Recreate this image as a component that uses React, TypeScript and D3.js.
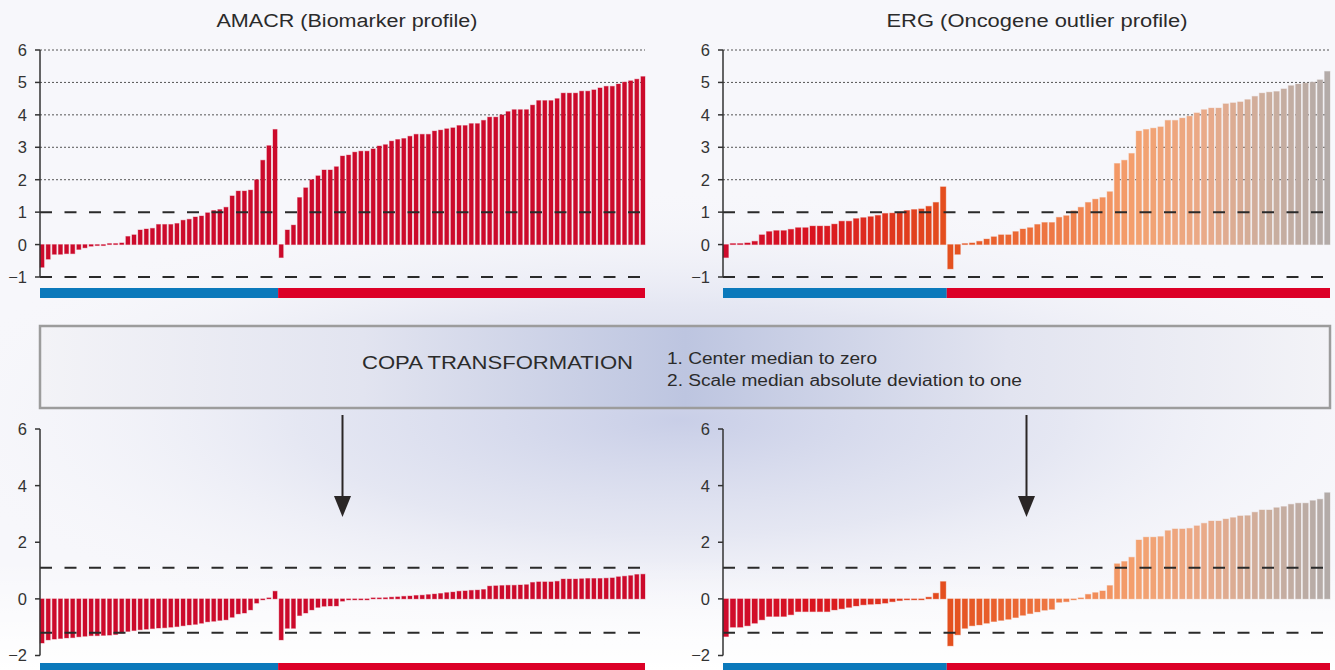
import * as d3 from 'd3'

const W = 1335
const H = 670

// AMACR raw expression, sorted within each group (normal = blue strip, cancer = red strip)
const amacrNormal = [
  -0.7, -0.45, -0.3, -0.3, -0.28, -0.28, -0.15, -0.1, -0.05, -0.03,
  -0.02, 0.02, 0.03, 0.05, 0.25, 0.3, 0.45, 0.48, 0.5, 0.62,
  0.62, 0.62, 0.65, 0.75, 0.78, 0.85, 0.88, 0.98, 1.05, 1.08,
  1.15, 1.5, 1.65, 1.65, 1.68, 2.0, 2.6, 3.05, 3.55,
]
const amacrCancer = [
  -0.4, 0.45, 0.6, 1.45, 1.75, 2.0, 2.12, 2.3, 2.3, 2.4,
  2.73, 2.76, 2.85, 2.88, 2.88, 2.95, 3.04, 3.08, 3.19, 3.24,
  3.27, 3.34, 3.4, 3.4, 3.4, 3.5, 3.53, 3.57, 3.6, 3.67,
  3.67, 3.73, 3.73, 3.83, 3.93, 3.93, 4.0, 4.1, 4.16, 4.16,
  4.16, 4.3, 4.44, 4.44, 4.44, 4.5, 4.67, 4.67, 4.67, 4.73,
  4.73, 4.77, 4.83, 4.88, 4.88, 4.95, 5.01, 5.05, 5.1, 5.18,
]
const ergNormal = [
  -0.4, 0.01, 0.02, 0.05, 0.1, 0.3, 0.4, 0.43, 0.43, 0.47,
  0.52, 0.52, 0.57, 0.57, 0.57, 0.63, 0.72, 0.72, 0.8, 0.83,
  0.86, 0.9, 0.96, 0.97, 1.0, 1.05, 1.08, 1.1, 1.18, 1.3, 1.78,
]
const ergCancer = [
  -0.75, -0.3, 0.0, 0.05, 0.1, 0.17, 0.24, 0.3, 0.3, 0.4,
  0.48, 0.52, 0.62, 0.68, 0.68, 0.84, 0.89, 1.04, 1.15, 1.3,
  1.4, 1.45, 1.63, 2.5, 2.6, 2.81, 3.5, 3.55, 3.59, 3.63,
  3.83, 3.83, 3.9, 3.96, 4.06, 4.16, 4.21, 4.21, 4.34, 4.37,
  4.4, 4.47, 4.57, 4.67, 4.7, 4.72, 4.8, 4.9, 4.95, 4.98,
  5.01, 5.08, 5.34,
]

// after COPA transformation
const copaAmacrNormal = [
  -1.56, -1.45, -1.42, -1.4, -1.38, -1.37, -1.34, -1.32, -1.3, -1.3,
  -1.29, -1.28, -1.26, -1.21, -1.15, -1.12, -1.09, -1.07, -1.05, -1.03,
  -1.02, -1.0, -0.98, -0.95, -0.92, -0.9, -0.86, -0.81, -0.79, -0.76,
  -0.74, -0.65, -0.53, -0.5, -0.39, -0.15, -0.02, 0.03, 0.27,
]
const copaAmacrCancer = [
  -1.45, -1.04, -1.04, -0.59, -0.5, -0.39, -0.3, -0.26, -0.25, -0.25,
  -0.08, -0.03, -0.02, -0.01, -0.01, 0.01, 0.03, 0.04, 0.06, 0.07,
  0.09, 0.1, 0.12, 0.13, 0.15, 0.17, 0.19, 0.22, 0.24, 0.27,
  0.28, 0.3, 0.31, 0.33, 0.45, 0.46, 0.47, 0.48, 0.48, 0.49,
  0.5, 0.58, 0.6, 0.6, 0.6, 0.62, 0.7, 0.7, 0.7, 0.71,
  0.72, 0.72, 0.72, 0.73, 0.74, 0.78, 0.8, 0.82, 0.86, 0.87,
]
const copaErgNormal = [
  -1.33, -1.0, -1.0, -0.95, -0.86, -0.74, -0.62, -0.62, -0.62, -0.56,
  -0.45, -0.45, -0.45, -0.45, -0.45, -0.39, -0.35, -0.3, -0.25, -0.21,
  -0.19, -0.18, -0.15, -0.1, -0.06, -0.03, -0.03, -0.03, 0.06, 0.2, 0.61,
]
const copaErgCancer = [
  -1.66, -1.27, -1.04, -0.95, -0.92, -0.86, -0.8, -0.76, -0.72, -0.66,
  -0.58, -0.52, -0.46, -0.4, -0.37, -0.12, -0.1, -0.02, 0.02, 0.16,
  0.22, 0.28, 0.47, 1.24, 1.32, 1.47, 2.08, 2.18, 2.18, 2.2,
  2.41, 2.47, 2.47, 2.49, 2.58, 2.67, 2.75, 2.75, 2.82, 2.87,
  2.93, 2.94, 3.06, 3.14, 3.14, 3.22, 3.26, 3.34, 3.38, 3.38,
  3.47, 3.52, 3.75,
]

const rawTicks = [-1, 0, 1, 2, 3, 4, 5, 6]
const copaTicks = [-2, 0, 2, 4, 6]
const gridLevels = [2, 3, 4, 5, 6]
const rawCutoffs = [1, -1]
const copaCutoffs = [1.1, -1.2]

const titles = ['AMACR (Biomarker profile)', 'ERG (Oncogene outlier profile)']
const copaTitle = 'COPA TRANSFORMATION'
const copaSteps = ['1. Center median to zero', '2. Scale median absolute deviation to one']

const ergStops = ['#cf0b2c', '#d9141f', '#e4501e', '#ec6c38', '#f4a06e', '#e9aa8a', '#ccae9e', '#b3aba8']
const ergStopPos = [0, 0.15, 0.37, 0.5, 0.68, 0.8, 0.9, 1]

const FONT = '"Liberation Sans", Arial, Helvetica, sans-serif'
const AMACR_RED = '#cc0a2b'
const BLUE = '#0b79bb'
const RED = '#dc0027'

const ergColor = d3.scaleLinear<string>().domain(ergStopPos).range(ergStops).interpolate(d3.interpolateRgb)
const fmt = d3.format('d')

type PanelProps = {
  left: number
  right: number
  top: number
  bottom: number
  domain: [number, number]
  ticks: number[]
  normal: number[]
  cancer: number[]
  color: (i: number, n: number) => string
  grid: number[]
  cutoffs: number[]
  stripY: number
  pad: number
}

function Panel({ left, right, top, bottom, domain, ticks, normal, cancer, color, grid, cutoffs, stripY, pad }: PanelProps) {
  const values = [...normal, ...cancer]
  const x = d3.scaleBand<number>().domain(d3.range(values.length)).range([left, right]).paddingInner(pad).paddingOuter(0)
  const y = d3.scaleLinear().domain(domain).range([bottom, top])
  const split = (x(normal.length) as number) - (x.step() * pad) / 2
  const y0 = y(0)

  return (
    <g>
      {grid.map((g) => (
        <line key={'g' + g} x1={left} x2={right} y1={y(g)} y2={y(g)} stroke="#555" strokeWidth={1} strokeDasharray="2,2" />
      ))}
      {values.map((v, i) => {
        const c = color(i, values.length)
        const h = Math.max(1, Math.abs(y(v) - y0))
        return (
          <rect
            key={i}
            x={x(i)}
            width={x.bandwidth()}
            y={v >= 0 ? y0 - h : y0}
            height={h}
            fill={c}
            stroke={c}
            strokeOpacity={0.35}
            strokeWidth={1}
          />
        )
      })}
      {cutoffs.map((c) => (
        <line key={'c' + c} x1={left} x2={right} y1={y(c)} y2={y(c)} stroke="#2a2a2a" strokeWidth={2} strokeDasharray="12,12.5" />
      ))}
      <line x1={left} x2={left} y1={y(domain[1])} y2={y(domain[0])} stroke="#333" strokeWidth={1.5} />
      {ticks.map((t) => (
        <g key={'t' + t}>
          <line x1={left - 5} x2={left} y1={y(t)} y2={y(t)} stroke="#333" strokeWidth={1.5} />
          <text x={left - 13} y={y(t)} dy="0.36em" textAnchor="end" fontSize={16.5} fill="#333" fontFamily={FONT}>
            {fmt(t)}
          </text>
        </g>
      ))}
      <rect x={left} y={stripY} width={split - left} height={10} fill={BLUE} />
      <rect x={split} y={stripY} width={right - split} height={10} fill={RED} />
    </g>
  )
}

function Arrow({ x }: { x: number }) {
  return (
    <g>
      <line x1={x} x2={x} y1={415} y2={500} stroke="#2a2626" strokeWidth={2} />
      <path d={`M${x - 8.5},496 L${x + 8.5},496 L${x},517 Z`} fill="#2a2626" />
    </g>
  )
}

export default function App() {
  const amacrColor = () => AMACR_RED
  const ergFill = (i: number, n: number) => ergColor(i / (n - 1))
  const L = [40, 645]
  const R = [723, 1330]

  return (
    <svg width={W} height={H} style={{ position: 'absolute', left: 0, top: 0, display: 'block' }}>
      <defs>
        <radialGradient id="glow" cx="0.5" cy="0.5" r="0.5">
          <stop offset="0" stopColor="#c6cce6" stopOpacity={0.95} />
          <stop offset="0.5" stopColor="#dde0ef" stopOpacity={0.7} />
          <stop offset="1" stopColor="#f6f6fa" stopOpacity={0} />
        </radialGradient>
        <linearGradient id="boxfill" x1="0" y1="0" x2="1" y2="0">
          <stop offset="0" stopColor="#f3f3f7" />
          <stop offset="0.25" stopColor="#e2e4f0" />
          <stop offset="0.5" stopColor="#bdc5e0" />
          <stop offset="0.75" stopColor="#e2e4f0" />
          <stop offset="1" stopColor="#f3f3f7" />
        </linearGradient>
        <linearGradient id="fadeWhite" x1="0" y1="0" x2="0" y2="1">
          <stop offset="0" stopColor="#ffffff" stopOpacity={0} />
          <stop offset="1" stopColor="#ffffff" stopOpacity={1} />
        </linearGradient>
      </defs>

      <rect x={0} y={0} width={W} height={H} fill="#f7f7fb" />
      <ellipse cx={680} cy={420} rx={760} ry={230} fill="url(#glow)" />
      <rect x={0} y={560} width={W} height={110} fill="url(#fadeWhite)" />

      <text x={347} y={27} textAnchor="middle" fontSize={18} fill="#2b2b2b" fontFamily={FONT} textLength={261} lengthAdjust="spacingAndGlyphs">
        {titles[0]}
      </text>
      <text x={1037} y={27} textAnchor="middle" fontSize={18} fill="#2b2b2b" fontFamily={FONT} textLength={301} lengthAdjust="spacingAndGlyphs">
        {titles[1]}
      </text>

      <Panel left={L[0]} right={L[1]} top={50} bottom={277} domain={[-1, 6]} ticks={rawTicks}
        normal={amacrNormal} cancer={amacrCancer} color={amacrColor} grid={gridLevels} cutoffs={rawCutoffs} stripY={288} pad={0.33} />
      <Panel left={R[0]} right={R[1]} top={50} bottom={277} domain={[-1, 6]} ticks={rawTicks}
        normal={ergNormal} cancer={ergCancer} color={ergFill} grid={gridLevels} cutoffs={rawCutoffs} stripY={288} pad={0.25} />

      <rect x={40} y={326} width={1290} height={82} fill="url(#boxfill)" stroke="#9c9c9c" strokeWidth={2.5} />
      <text x={362} y={369} fontSize={18.5} fill="#2b2b2b" fontFamily={FONT} textLength={271} lengthAdjust="spacingAndGlyphs">
        {copaTitle}
      </text>
      <text x={667} y={364} fontSize={16} fill="#2b2b2b" fontFamily={FONT} textLength={210} lengthAdjust="spacingAndGlyphs">
        {copaSteps[0]}
      </text>
      <text x={667} y={386} fontSize={16} fill="#2b2b2b" fontFamily={FONT} textLength={355} lengthAdjust="spacingAndGlyphs">
        {copaSteps[1]}
      </text>

      <Arrow x={(L[0] + L[1]) / 2} />
      <Arrow x={(R[0] + R[1]) / 2} />

      <Panel left={L[0]} right={L[1]} top={429} bottom={655.5} domain={[-2, 6]} ticks={copaTicks}
        normal={copaAmacrNormal} cancer={copaAmacrCancer} color={amacrColor} grid={[]} cutoffs={copaCutoffs} stripY={663} pad={0.33} />
      <Panel left={R[0]} right={R[1]} top={429} bottom={655.5} domain={[-2, 6]} ticks={copaTicks}
        normal={copaErgNormal} cancer={copaErgCancer} color={ergFill} grid={[]} cutoffs={copaCutoffs} stripY={663} pad={0.25} />
    </svg>
  )
}
